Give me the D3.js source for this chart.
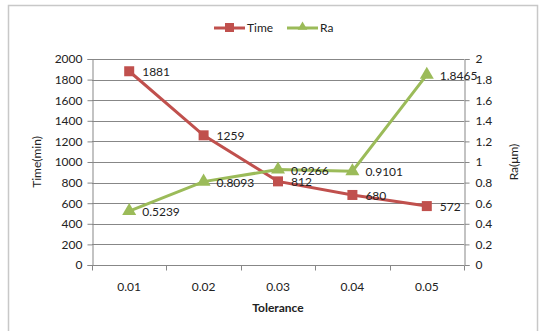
<!DOCTYPE html>
<html>
<head>
<meta charset="utf-8">
<script src="https://cdn.jsdelivr.net/npm/d3@7"></script>
<style>
  body { margin: 0; background: #fff; }
  svg text { font-family: Lato, "Open Sans", sans-serif; fill: #222; }
</style>
</head>
<body>
<div id="chart"></div>
<script>
/* DATA */
const tolerances = ["0.01", "0.02", "0.03", "0.04", "0.05"];
const timeValues = [1881, 1259, 812, 680, 572];
const raValues = [0.5239, 0.8093, 0.9266, 0.9101, 1.8465];
const timeTicks = [0, 200, 400, 600, 800, 1000, 1200, 1400, 1600, 1800, 2000];
const raTicks = [0, 0.2, 0.4, 0.6, 0.8, 1, 1.2, 1.4, 1.6, 1.8, 2];

const width = 539, height = 331,
  margin = { top: 59, bottom: 66, left: 92, right: 75 };

const red = "#C0504D", green = "#9BBB59", gridColor = "#878787";

const svg = d3.select("#chart").append("svg")
  .attr("width", width).attr("height", height);

// outer frame
svg.append("rect")
  .attr("x", 8.5).attr("y", 5.5)
  .attr("width", 529).attr("height", 340)
  .attr("fill", "none").attr("stroke", "#c8c8c8").attr("stroke-width", 1.5);

const xScale = d3.scaleBand()
  .domain(tolerances)
  .range([margin.left, width - margin.right]);

const yLeft = d3.scaleLinear().domain([0, 2000])
  .range([height - margin.bottom, margin.top]);
const yRight = d3.scaleLinear().domain([0, 2])
  .range([height - margin.bottom, margin.top]);

// gridlines
svg.append("g")
  .selectAll("line")
  .data(timeTicks)
  .join("line")
  .attr("x1", margin.left).attr("x2", width - margin.right)
  .attr("y1", d => Math.round(yLeft(d)) + 0.5)
  .attr("y2", d => Math.round(yLeft(d)) + 0.5)
  .attr("stroke", gridColor);

// left axis
const leftAxis = svg.append("g")
  .attr("transform", `translate(${margin.left + 0.5},0)`)
  .call(d3.axisLeft(yLeft).tickValues(timeTicks).tickSize(5).tickPadding(5)
    .tickFormat(d3.format("d")));
leftAxis.select(".domain").attr("stroke", gridColor);
leftAxis.selectAll(".tick line").attr("stroke", gridColor);
leftAxis.selectAll("text").style("font-size", "12px");

// right axis
const rightAxis = svg.append("g")
  .attr("transform", `translate(${width - margin.right + 0.5},0)`)
  .call(d3.axisRight(yRight).tickValues(raTicks).tickSize(5).tickPadding(6)
    .tickFormat(d3.format("~g")));
rightAxis.select(".domain").attr("stroke", gridColor);
rightAxis.selectAll(".tick line").attr("stroke", gridColor);
rightAxis.selectAll("text").style("font-size", "12px");

// bottom axis with ticks at band boundaries
const xAxisG = svg.append("g")
  .attr("transform", `translate(0,${height - margin.bottom + 0.5})`);
xAxisG.append("line")
  .attr("x1", margin.left).attr("x2", width - margin.right)
  .attr("stroke", gridColor);
const bounds = tolerances.map(d => xScale(d)).concat([width - margin.right]);
xAxisG.selectAll("line.tk")
  .data(bounds)
  .join("line")
  .attr("class", "tk")
  .attr("x1", d => Math.round(d) + 0.5).attr("x2", d => Math.round(d) + 0.5)
  .attr("y1", 0).attr("y2", 5)
  .attr("stroke", gridColor);
xAxisG.selectAll("text")
  .data(tolerances)
  .join("text")
  .attr("x", d => xScale(d) + xScale.bandwidth() / 2)
  .attr("y", 25)
  .attr("text-anchor", "middle")
  .style("font-size", "12px")
  .text(d => d);

// axis titles
svg.append("text")
  .attr("x", 278).attr("y", 312)
  .attr("text-anchor", "middle")
  .style("font-size", "12px").style("font-weight", "bold")
  .text("Tolerance");

svg.append("text")
  .attr("transform", `translate(41,${(margin.top + height - margin.bottom) / 2}) rotate(-90)`)
  .attr("text-anchor", "middle")
  .style("font-size", "12px")
  .text("Time(min)");

svg.append("text")
  .attr("transform", `translate(518,${(margin.top + height - margin.bottom) / 2}) rotate(-90)`)
  .attr("text-anchor", "middle")
  .style("font-size", "12px")
  .text("Ra(μm)");

const cx = d => xScale(d) + xScale.bandwidth() / 2;

// Time series
const timeData = tolerances.map((t, i) => ({ t, v: timeValues[i] }));
const raData = tolerances.map((t, i) => ({ t, v: raValues[i] }));

svg.append("path")
  .datum(timeData)
  .attr("fill", "none").attr("stroke", red).attr("stroke-width", 3)
  .attr("d", d3.line().x(d => cx(d.t)).y(d => yLeft(d.v)));

svg.append("path")
  .datum(raData)
  .attr("fill", "none").attr("stroke", green).attr("stroke-width", 3)
  .attr("d", d3.line().x(d => cx(d.t)).y(d => yRight(d.v)));

const tri = d3.symbol().type(d3.symbolTriangle).size(85);

svg.selectAll("rect.tm")
  .data(timeData)
  .join("rect")
  .attr("class", "tm")
  .attr("x", d => cx(d.t) - 5).attr("y", d => yLeft(d.v) - 5)
  .attr("width", 10).attr("height", 10)
  .attr("fill", red);

svg.selectAll("path.ra")
  .data(raData)
  .join("path")
  .attr("class", "ra")
  .attr("transform", d => `translate(${cx(d.t)},${yRight(d.v)})`)
  .attr("d", tri)
  .attr("fill", green);

// data labels
svg.selectAll("text.tl")
  .data(timeData)
  .join("text")
  .attr("class", "tl")
  .attr("x", d => cx(d.t) + 13)
  .attr("y", d => yLeft(d.v) + 5)
  .style("font-size", "12px")
  .text(d => d.v);

svg.selectAll("text.rl")
  .data(raData)
  .join("text")
  .attr("class", "rl")
  .attr("x", d => cx(d.t) + 13)
  .attr("y", d => yRight(d.v) + 5)
  .style("font-size", "12px")
  .text(d => d.v);

// legend
const legend = svg.append("g").attr("transform", "translate(214,28)");
const legendItems = [
  { name: "Time", color: red, shape: "square", x: 0 },
  { name: "Ra", color: green, shape: "triangle", x: 73 }
];
const li = legend.selectAll("g")
  .data(legendItems)
  .join("g")
  .attr("transform", d => `translate(${d.x},0)`);
li.append("line")
  .attr("x1", 0).attr("x2", 31)
  .attr("stroke", d => d.color).attr("stroke-width", 3);
li.filter(d => d.shape === "square").append("rect")
  .attr("x", 11).attr("y", -5).attr("width", 9).attr("height", 9)
  .attr("fill", d => d.color);
li.filter(d => d.shape === "triangle").append("path")
  .attr("transform", "translate(15.5,-1)")
  .attr("d", d3.symbol().type(d3.symbolTriangle).size(40))
  .attr("fill", d => d.color);
li.append("text")
  .attr("x", 33).attr("y", 4)
  .style("font-size", "12px")
  .text(d => d.name);
</script>
</body>
</html>
